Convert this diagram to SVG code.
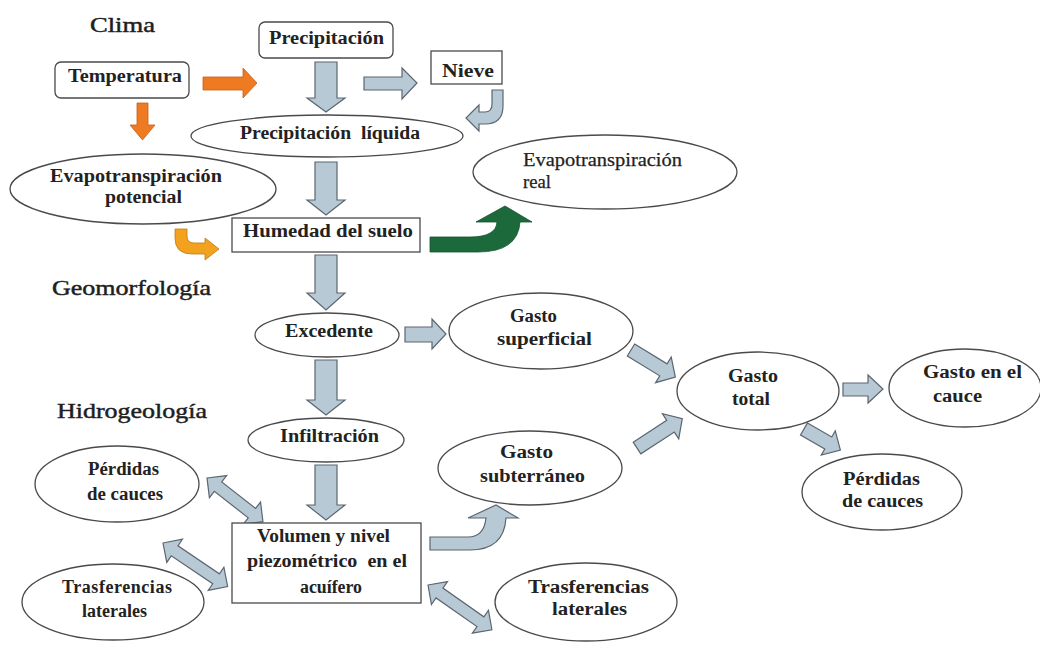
<svg xmlns="http://www.w3.org/2000/svg" width="1040" height="649" viewBox="0 0 1040 649">
<style>
.bg{fill:#ffffff}
.box{fill:#ffffff;stroke:#4a4a4a;stroke-width:1.3}
.ell{fill:#ffffff;stroke:#4a4a4a;stroke-width:1.3}
.ga{fill:#b7c9d5;stroke:#5b6670;stroke-width:1.2;stroke-linejoin:miter}
.oa{fill:#ee7b22;stroke:#c8601a;stroke-width:0.8}
.ya{fill:#f3a21f;stroke:#c07a10;stroke-width:0.8}
.gr{fill:#1c6a3b;stroke:#14502c;stroke-width:0.8}
.t{font-family:"Liberation Serif","Times New Roman",serif;font-size:18px;font-weight:bold;fill:#222222}
.tn{font-family:"Liberation Serif","Times New Roman",serif;font-size:18px;font-weight:normal;fill:#222222;stroke:#222222;stroke-width:0.25}
.h{font-family:"Liberation Serif","Times New Roman",serif;font-size:21px;font-weight:normal;fill:#1e1e1e;stroke:#1e1e1e;stroke-width:0.45}
</style>
<rect class="bg" x="0" y="0" width="1040" height="649"/>

<g id="headers">
<text class="h" x="90" y="32" textLength="65" lengthAdjust="spacingAndGlyphs">Clima</text>
<text class="h" x="52" y="295" textLength="159" lengthAdjust="spacingAndGlyphs">Geomorfología</text>
<text class="h" x="57" y="418" textLength="150" lengthAdjust="spacingAndGlyphs">Hidrogeología</text>
</g>

<g id="connectors">
<path class="oa" d="M203,77 H243 V68 L257,83 L243,98 V90 H203 Z"/>
<path class="oa" d="M137,103 H148 V125 H155 L142.5,140 L130,125 H137 Z"/>
<path class="ga" d="M315,62 H337 V98 H345 L326,112 L307,98 H315 Z"/>
<path class="ga" d="M364,77 H402 V68 L417,83 L402,99 V90 H364 Z"/>
<path class="ga" d="M492,90 L503,90 L503,106 Q503,124 485,124 L479,124 L479,131 L466,118 L479,105 L479,112 L485,112 Q492,112 492,104 Z"/>
<path class="ga" d="M315,162 H337 V200 H345 L326,215 L307,200 H315 Z"/>
<path class="ya" d="M175,229 H187 V236 Q187,243 194,243 H205 V238 L219,249 L205,260 V254 H192 Q175,254 175,238 Z"/>
<path class="gr" d="M430,237 H470 Q496,237 497,222 H476 L505,206 L532,222 H520 Q518,252 478,252 H430 Z"/>
<path class="ga" d="M315,255 H337 V293 H345 L326,310 L307,293 H315 Z"/>
<path class="ga" d="M405,327 H432 V319 L446,334 L432,349 V342 H405 Z"/>
<path class="ga" d="M315,360 H337 V400 H345 L326,415 L307,400 H315 Z"/>
<path class="ga" d="M315,465 H337 V505 H345 L326,520 L307,505 H315 Z"/>
<path class="ga" transform="translate(631,350) rotate(31.5)" d="M0,-7 H38 V-15 L52,0 L38,15 V7 H0 Z"/>
<path class="ga" transform="translate(637,448) rotate(-33)" d="M0,-7 H40 V-15 L54,0 L40,15 V7 H0 Z"/>
<path class="ga" d="M843,383 H868 V375 L883,389 L868,403 V396 H843 Z"/>
<path class="ga" transform="translate(804,429) rotate(30)" d="M0,-7 H28 V-14 L42,0 L28,14 V7 H0 Z"/>
<path class="ga" d="M430,537 H468 Q484,537 486,518 H468 L496,505 L518,518 H506 Q504,550 470,550 H430 Z"/>
<path class="ga" transform="translate(207,478) rotate(38)" d="M0,0 L14,-14 V-6 H57 V-14 L71,0 L57,14 V6 H14 V14 Z"/>
<path class="ga" transform="translate(163,543) rotate(34)" d="M0,0 L14,-14 V-6 H64 V-14 L78,0 L64,14 V6 H14 V14 Z"/>
<path class="ga" transform="translate(428,585) rotate(35)" d="M0,0 L14,-14 V-6 H64 V-14 L78,0 L64,14 V6 H14 V14 Z"/>
</g>

<g id="precipitacion">
<rect class="box" x="259" y="22" width="134" height="36" rx="6"/>
<text class="t" x="269" y="44" textLength="115" lengthAdjust="spacingAndGlyphs">Precipitación</text>
</g>
<g id="temperatura">
<rect class="box" x="55" y="62" width="134" height="36" rx="6"/>
<text class="t" x="68" y="82" textLength="114" lengthAdjust="spacingAndGlyphs">Temperatura</text>
</g>
<g id="nieve">
<rect class="box" x="431" y="51" width="71" height="33"/>
<text class="t" x="442" y="77" textLength="52" lengthAdjust="spacingAndGlyphs">Nieve</text>
</g>
<g id="precipitacion-liquida">
<ellipse class="ell" cx="327" cy="136" rx="136" ry="21"/>
<text class="t" x="240" y="139" textLength="180" lengthAdjust="spacingAndGlyphs" xml:space="preserve">Precipitación  líquida</text>
</g>
<g id="evapotranspiracion-potencial">
<ellipse class="ell" cx="143" cy="189" rx="133" ry="35"/>
<text class="t" x="50" y="182" textLength="172" lengthAdjust="spacingAndGlyphs">Evapotranspiración</text>
<text class="t" x="105" y="203" textLength="77" lengthAdjust="spacingAndGlyphs">potencial</text>
</g>
<g id="evapotranspiracion-real">
<ellipse class="ell" cx="605" cy="172" rx="132" ry="37"/>
<text class="tn" x="523" y="166" textLength="159" lengthAdjust="spacingAndGlyphs">Evapotranspiración</text>
<text class="tn" x="523" y="188" textLength="28" lengthAdjust="spacingAndGlyphs">real</text>
</g>
<g id="humedad-suelo">
<rect class="box" x="232" y="218" width="188" height="34"/>
<text class="t" x="243" y="237" textLength="170" lengthAdjust="spacingAndGlyphs">Humedad del suelo</text>
</g>
<g id="excedente">
<ellipse class="ell" cx="327" cy="335" rx="72" ry="22"/>
<text class="t" x="285" y="337" textLength="88" lengthAdjust="spacingAndGlyphs">Excedente</text>
</g>
<g id="infiltracion">
<ellipse class="ell" cx="326" cy="440" rx="78" ry="22"/>
<text class="t" x="280" y="442" textLength="99" lengthAdjust="spacingAndGlyphs">Infiltración</text>
</g>
<g id="gasto-superficial">
<ellipse class="ell" cx="541" cy="331" rx="92" ry="38"/>
<text class="t" x="510" y="322" textLength="47" lengthAdjust="spacingAndGlyphs">Gasto</text>
<text class="t" x="497" y="345" textLength="95" lengthAdjust="spacingAndGlyphs">superficial</text>
</g>
<g id="gasto-total">
<ellipse class="ell" cx="758" cy="391" rx="81" ry="39"/>
<text class="t" x="728" y="382" textLength="50" lengthAdjust="spacingAndGlyphs">Gasto</text>
<text class="t" x="732" y="405" textLength="38" lengthAdjust="spacingAndGlyphs">total</text>
</g>
<g id="gasto-cauce">
<ellipse class="ell" cx="965" cy="388" rx="76" ry="39"/>
<text class="t" x="923" y="378" textLength="99" lengthAdjust="spacingAndGlyphs">Gasto en el</text>
<text class="t" x="933" y="402" textLength="49" lengthAdjust="spacingAndGlyphs">cauce</text>
</g>
<g id="perdidas-cauces-der">
<ellipse class="ell" cx="882" cy="492" rx="80" ry="38"/>
<text class="t" x="843" y="485" textLength="77" lengthAdjust="spacingAndGlyphs">Pérdidas</text>
<text class="t" x="842" y="507" textLength="81" lengthAdjust="spacingAndGlyphs">de cauces</text>
</g>
<g id="gasto-subterraneo">
<ellipse class="ell" cx="530" cy="468" rx="92" ry="37"/>
<text class="t" x="500" y="458" textLength="53" lengthAdjust="spacingAndGlyphs">Gasto</text>
<text class="t" x="480" y="482" textLength="105" lengthAdjust="spacingAndGlyphs">subterráneo</text>
</g>
<g id="trasferencias-der">
<ellipse class="ell" cx="586" cy="602" rx="91" ry="39"/>
<text class="t" x="528" y="593" textLength="121" lengthAdjust="spacingAndGlyphs">Trasferencias</text>
<text class="t" x="552" y="615" textLength="75" lengthAdjust="spacingAndGlyphs">laterales</text>
</g>
<g id="perdidas-cauces-izq">
<ellipse class="ell" cx="117" cy="484" rx="82" ry="38"/>
<text class="t" x="88" y="475" textLength="71" lengthAdjust="spacingAndGlyphs">Pérdidas</text>
<text class="t" x="87" y="500" textLength="76" lengthAdjust="spacingAndGlyphs">de cauces</text>
</g>
<g id="trasferencias-izq">
<ellipse class="ell" cx="113" cy="602" rx="91" ry="38"/>
<text class="t" x="62" y="593" textLength="110" lengthAdjust="spacing">Trasferencias</text>
<text class="t" x="82" y="617" textLength="65" lengthAdjust="spacing">laterales</text>
</g>
<g id="volumen-acuifero">
<rect class="box" x="232" y="523" width="189" height="80"/>
<text class="t" x="257" y="542" textLength="133" lengthAdjust="spacingAndGlyphs">Volumen y nivel</text>
<text class="t" x="247" y="567" textLength="160" lengthAdjust="spacingAndGlyphs" xml:space="preserve">piezométrico  en el</text>
<text class="t" x="300" y="593" textLength="62" lengthAdjust="spacingAndGlyphs">acuífero</text>
</g>
</svg>
